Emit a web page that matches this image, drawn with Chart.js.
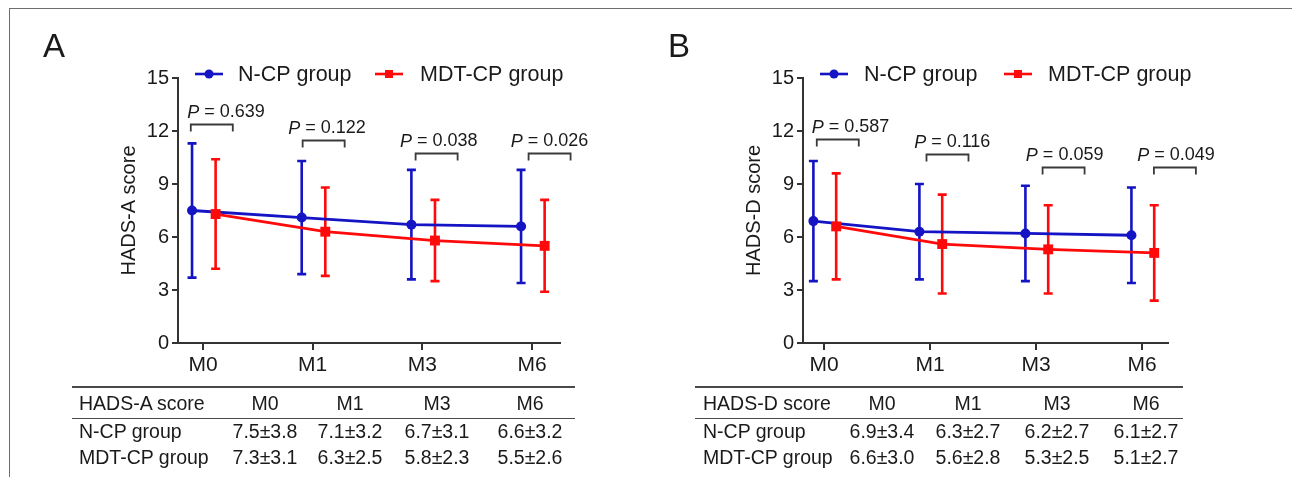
<!DOCTYPE html>
<html>
<head>
<meta charset="utf-8">
<script src="https://cdn.jsdelivr.net/npm/chart.js@4/dist/chart.umd.min.js"></script>
<style>
  body { margin: 0; background: #fff; }
  #wrap { position: relative; width: 1292px; height: 477px; overflow: hidden;
          font-family: 'Liberation Sans', Arial, sans-serif; color: #1a1a1a; }
  .frame { position: absolute; left: 9px; top: 8px; width: 1400px; height: 600px;
           border-top: 1.5px solid #6e6e6e; border-left: 1.5px solid #6e6e6e; }
  canvas { position: absolute; top: 0; }
  .t { position: absolute; white-space: nowrap; line-height: 1; }
  .rule { position: absolute; height: 1.6px; background: #4a4a4a; }
</style>
</head>
<body>
<div id="wrap">
  <div class="frame"></div>
  <canvas id="chartA" width="646" height="477" style="left:0"></canvas>
  <canvas id="chartB" width="646" height="477" style="left:646px"></canvas>
</div>
<script>
// data
const timePoints = ['M0', 'M1', 'M3', 'M6'];
const groupNames = ['N-CP group', 'MDT-CP group'];

const anxNcpMean = [7.5, 7.1, 6.7, 6.6];
const anxNcpSd = [3.8, 3.2, 3.1, 3.2];
const anxMdtMean = [7.3, 6.3, 5.8, 5.5];
const anxMdtSd = [3.1, 2.5, 2.3, 2.6];
const anxPvals = ['0.639', '0.122', '0.038', '0.026'];

const depNcpMean = [6.9, 6.3, 6.2, 6.1];
const depNcpSd = [3.4, 2.7, 2.7, 2.7];
const depMdtMean = [6.6, 5.6, 5.3, 5.1];
const depMdtSd = [3.0, 2.8, 2.5, 2.7];
const depPvals = ['0.587', '0.116', '0.059', '0.049'];

const BLUE = '#1414c4';
const RED = '#ff0a0a';
const INK = '#1a1a1a';
const AXIS = '#333333';
const FONT = "'Liberation Sans', Arial, sans-serif";

Chart.defaults.font.family = FONT;
Chart.defaults.color = INK;

// error bars (mean +/- SD) under the lines
const errorBars = {
  id: 'errorBars',
  beforeDatasetsDraw(chart) {
    const ctx = chart.ctx;
    const y = chart.scales.y;
    chart.data.datasets.forEach((ds, i) => {
      const meta = chart.getDatasetMeta(i);
      ctx.save();
      ctx.strokeStyle = ds.borderColor;
      ctx.lineWidth = 2.6;
      meta.data.forEach((pt, j) => {
        const m = ds.data[j].y;
        const top = y.getPixelForValue(m + ds.sd[j]);
        const bot = y.getPixelForValue(m - ds.sd[j]);
        ctx.beginPath();
        ctx.moveTo(pt.x, top); ctx.lineTo(pt.x, bot);
        ctx.moveTo(pt.x - 4.5, top); ctx.lineTo(pt.x + 4.5, top);
        ctx.moveTo(pt.x - 4.5, bot); ctx.lineTo(pt.x + 4.5, bot);
        ctx.stroke();
      });
      ctx.restore();
    });
  }
};

// legend row and P-value brackets
const annot = {
  id: 'annot',
  afterDraw(chart, args, o) {
    const ctx = chart.ctx;
    const xs = chart.scales.x, ys = chart.scales.y;
    ctx.save();
    // legend
    const lg = o.legend;
    ctx.lineWidth = 2.6;
    ctx.font = '21.5px ' + FONT;
    ctx.textBaseline = 'middle';
    ctx.fillStyle = INK;
    [[BLUE, 'circle'], [RED, 'rect']].forEach(([col, shape], k) => {
      const x0 = lg.lineX[k];
      ctx.strokeStyle = col;
      ctx.fillStyle = col;
      ctx.beginPath();
      ctx.moveTo(x0, lg.y); ctx.lineTo(x0 + 28, lg.y);
      ctx.stroke();
      ctx.beginPath();
      if (shape === 'circle') ctx.arc(x0 + 14, lg.y, 4.5, 0, Math.PI * 2);
      else ctx.rect(x0 + 10, lg.y - 4, 8, 8);
      ctx.fill();
      ctx.fillStyle = INK;
      ctx.fillText(groupNames[k], lg.textX[k], lg.y + 1);
    });
    // brackets
    ctx.strokeStyle = '#3a3a3a';
    ctx.lineWidth = 1.8;
    o.pvals.forEach((p, i) => {
      const cx = xs.getPixelForValue(i + o.bracketDx[i]);
      const by = Math.round(ys.getPixelForValue(o.bracketY[i])) + 0.5;
      ctx.beginPath();
      ctx.moveTo(cx - 21, by + 7); ctx.lineTo(cx - 21, by);
      ctx.lineTo(cx + 21, by); ctx.lineTo(cx + 21, by + 7);
      ctx.stroke();
      const tx = xs.getPixelForValue(i + o.textDx[i]);
      const ty = by - 12;
      const rest = ' = ' + p;
      ctx.font = 'italic 18px ' + FONT;
      const wP = ctx.measureText('P').width;
      ctx.font = '18px ' + FONT;
      const wR = ctx.measureText(rest).width;
      const left = tx - (wP + wR) / 2;
      ctx.fillStyle = INK;
      ctx.textAlign = 'left';
      ctx.font = 'italic 18px ' + FONT;
      ctx.fillText('P', left, ty);
      ctx.font = '18px ' + FONT;
      ctx.fillText(rest, left + wP, ty);
    });
    ctx.restore();
  }
};

function makeChart(id, cfg) {
  const pts = (means) => means.map((v, i) => ({ x: i, y: v }));
  return new Chart(document.getElementById(id), {
    type: 'line',
    data: {
      datasets: [
        {
          label: groupNames[0],
          data: pts(cfg.ncpMean).map(p => ({ x: p.x - 0.1, y: p.y })),
          sd: cfg.ncpSd,
          borderColor: BLUE, backgroundColor: BLUE,
          borderWidth: 2.8, pointStyle: 'circle', pointRadius: 5, pointBorderWidth: 0,
          order: 2
        },
        {
          label: groupNames[1],
          data: pts(cfg.mdtMean).map(p => ({ x: p.x + 0.115, y: p.y })),
          sd: cfg.mdtSd,
          borderColor: RED, backgroundColor: RED,
          borderWidth: 2.8, pointStyle: 'rect', pointRadius: 7, pointBorderWidth: 0,
          order: 1
        }
      ]
    },
    options: {
      responsive: false,
      animation: false,
      layout: { padding: cfg.padding },
      plugins: {
        legend: { display: false },
        tooltip: { enabled: false },
        annot: cfg.annot
      },
      scales: {
        x: {
          type: 'linear',
          min: cfg.xMin, max: cfg.xMax,
          afterBuildTicks: (s) => { s.ticks = timePoints.map((t, i) => ({ value: i })); },
          afterFit: (s) => { s.height = 30; },
          border: { color: AXIS, width: 2 },
          grid: { drawOnChartArea: false, tickLength: 7, color: AXIS, lineWidth: 2 },
          ticks: {
            font: { size: 21 }, color: INK, padding: 3, maxRotation: 0,
            autoSkip: false,
            callback: (v) => timePoints[v]
          }
        },
        y: {
          min: 0, max: 15,
          afterFit: (s) => { s.width = 61; },
          border: { color: AXIS, width: 2 },
          grid: { drawOnChartArea: false, tickLength: 6, color: AXIS, lineWidth: 2 },
          ticks: { stepSize: 3, font: { size: 20 }, color: INK, padding: 3 },
          title: { display: true, text: cfg.yTitle, font: { size: 20 }, color: INK, padding: 0 }
        }
      }
    },
    plugins: [errorBars, annot]
  });
}

makeChart('chartA', {
  ncpMean: anxNcpMean, ncpSd: anxNcpSd, mdtMean: anxMdtMean, mdtSd: anxMdtSd,
  yTitle: 'HADS-A score',
  xMin: -0.228, xMax: 3.255,
  padding: { left: 117, top: 78, right: 86, bottom: 104 },
  annot: {
    legend: { y: 74, lineX: [195, 375], textX: [238, 420] },
    pvals: anxPvals,
    bracketDx: [0.08, 0.1, 0.13, 0.16],
    bracketY: [12.4, 11.5, 10.75, 10.75],
    textDx: [0.21, 0.13, 0.15, 0.16]
  }
});

makeChart('chartB', {
  ncpMean: depNcpMean, ncpSd: depNcpSd, mdtMean: depMdtMean, mdtSd: depMdtSd,
  yTitle: 'HADS-D score',
  xMin: -0.198, xMax: 3.245,
  padding: { left: 96, top: 78, right: 124, bottom: 104 },
  annot: {
    legend: { y: 74, lineX: [174, 358], textX: [218, 402] },
    pvals: depPvals,
    bracketDx: [0.13, 0.165, 0.26, 0.31],
    bracketY: [11.55, 10.7, 9.96, 9.96],
    textDx: [0.25, 0.21, 0.27, 0.32]
  }
});

// panel letters and summary tables (HTML text)
const wrap = document.getElementById('wrap');
function put(text, x, baseline, size, align) {
  const el = document.createElement('div');
  el.className = 't';
  el.textContent = text;
  el.style.fontSize = size + 'px';
  el.style.top = (baseline - 0.8465 * size) + 'px';
  el.style.left = x + 'px';
  if (align === 'center') el.style.transform = 'translateX(-50%)';
  wrap.appendChild(el);
}
function rule(x1, x2, y) {
  const el = document.createElement('div');
  el.className = 'rule';
  el.style.left = x1 + 'px';
  el.style.width = (x2 - x1) + 'px';
  el.style.top = y + 'px';
  wrap.appendChild(el);
}
const fmt = (m, s) => m.toFixed(1) + '±' + s.toFixed(1);

function table(t) {
  rule(t.x1, t.x2, 386);
  rule(t.x1, t.x2, 417.5);
  put(t.head, t.labelX, 411, 19.5);
  put(groupNames[0], t.labelX, 439, 19.5);
  put(groupNames[1], t.labelX, 465, 19.5);
  timePoints.forEach((tp, i) => {
    put(tp, t.cols[i], 411, 19.5, 'center');
    put(fmt(t.ncpMean[i], t.ncpSd[i]), t.cols[i], 439, 19.5, 'center');
    put(fmt(t.mdtMean[i], t.mdtSd[i]), t.cols[i], 465, 19.5, 'center');
  });
}

put('A', 43, 57, 33);
put('B', 668, 57, 33);

table({
  head: 'HADS-A score', x1: 72, x2: 575, labelX: 79,
  cols: [265, 350, 437, 530],
  ncpMean: anxNcpMean, ncpSd: anxNcpSd, mdtMean: anxMdtMean, mdtSd: anxMdtSd
});
table({
  head: 'HADS-D score', x1: 695, x2: 1183, labelX: 703,
  cols: [882, 968, 1057, 1146],
  ncpMean: depNcpMean, ncpSd: depNcpSd, mdtMean: depMdtMean, mdtSd: depMdtSd
});
</script>
</body>
</html>
